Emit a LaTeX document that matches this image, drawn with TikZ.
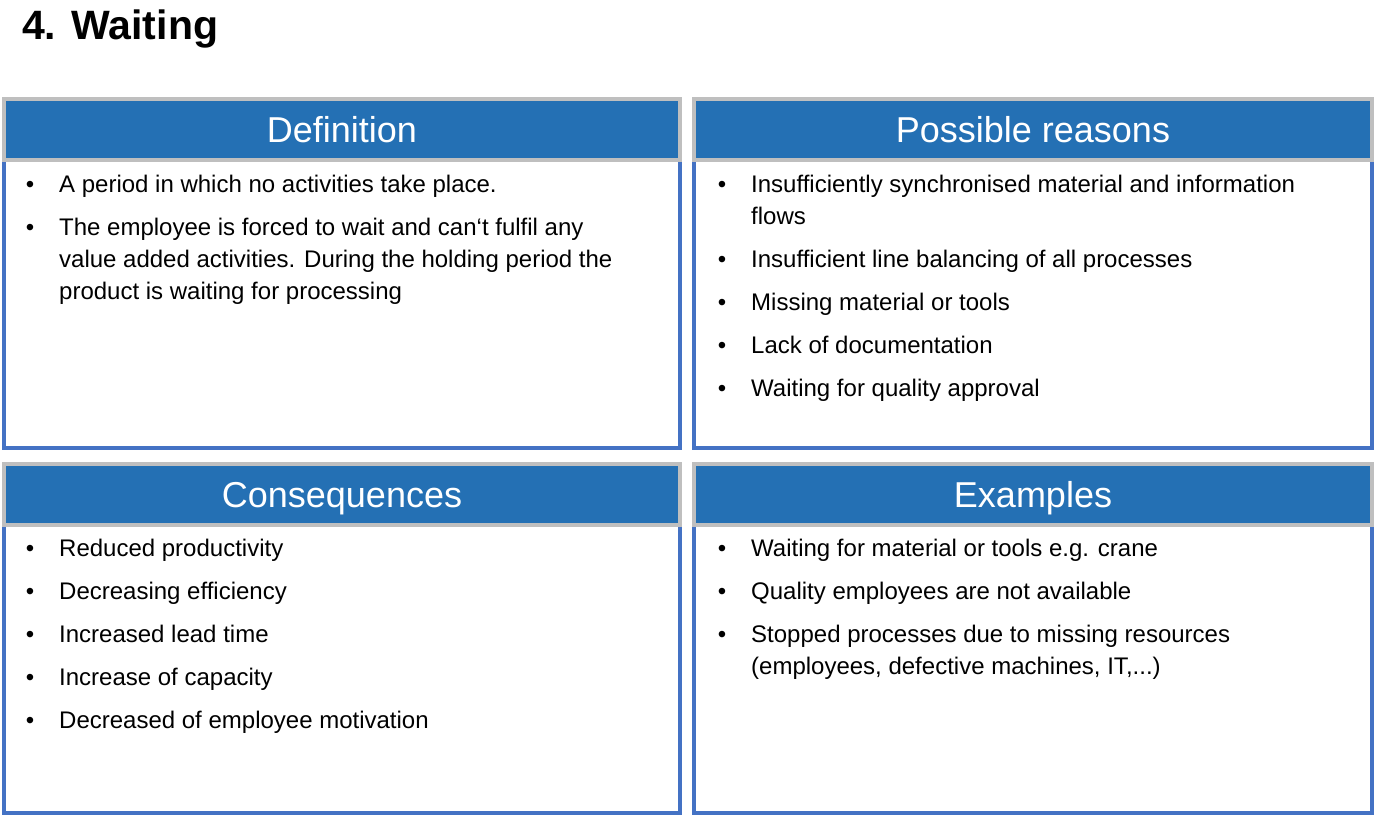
\documentclass[tikz,border=0pt]{standalone}
\usepackage{fontspec}
\setmainfont{Liberation Sans}
\definecolor{hblue}{HTML}{2470B4}
\definecolor{bblue}{HTML}{4472C4}
\definecolor{hgray}{HTML}{BFBFBF}
\begin{document}
\begin{tikzpicture}[x=1pt,y=-1pt,
  bodybox/.style={draw=bblue,line width=4pt,fill=white},
  headbox/.style={draw=hgray,line width=4pt,fill=hblue},
  htext/.style={anchor=base,text=white,inner sep=0pt,font=\fontsize{36}{40}\selectfont},
  btext/.style={anchor=base west,inner sep=0pt,font=\fontsize{24}{30}\selectfont},
  bul/.style={anchor=base,inner sep=0pt,font=\fontsize{24}{30}\selectfont}]
\useasboundingbox (0,0) rectangle (1379,817);
\node[anchor=base west,inner sep=0pt,font=\bfseries\fontsize{41}{46}\selectfont] (title) at (22,39) {4. Waiting};
% panels
\foreach \n/\xa/\xb/\ya/\yb/\yc/\t in {d/4/680/99/160/448/Definition, r/694/1372/99/160/448/Possible reasons, c/4/680/464/525/813/Consequences, e/694/1372/464/525/813/Examples}{
  \draw[bodybox] (\xa,\yb) rectangle (\xb,\yc);
  \draw[headbox] (\xa,\ya) rectangle (\xb,\yb);
  \node[htext] (h\n) at ({(\xa+\xb)/2},{(\ya+\yb)/2+13}) {\t};
}
% bullets
\foreach \x/\y [count=\i] in {30/184,30/227,722/184,722/259,722/302,722/345,722/388,30/548,30/591,30/634,30/677,30/720,722/548,722/591,722/634}{
  \node[bul] (b\i) at (\x,\y+8.5) {•};
}
% lines
\foreach \x/\y/\s [count=\i] in {
 59/184/{A period in which no activities take place.},
 59/227/{The employee is forced to wait and can‘t fulfil any},
 59/259/{value added activities. During the holding period the},
 59/291/{product is waiting for processing},
 751/184/{Insufficiently synchronised material and information},
 751/216/{flows},
 751/259/{Insufficient line balancing of all processes},
 751/302/{Missing material or tools},
 751/345/{Lack of documentation},
 751/388/{Waiting for quality approval},
 59/548/{Reduced productivity},
 59/591/{Decreasing efficiency},
 59/634/{Increased lead time},
 59/677/{Increase of capacity},
 59/720/{Decreased of employee motivation},
 751/548/{Waiting for material or tools e.g. crane},
 751/591/{Quality employees are not available},
 751/634/{Stopped processes due to missing resources},
 751/666/{(employees, defective machines, IT,...)}}{
  \node[btext] (t\i) at (\x,\y+8.5) {\s};
}
\end{tikzpicture}
\end{document}
